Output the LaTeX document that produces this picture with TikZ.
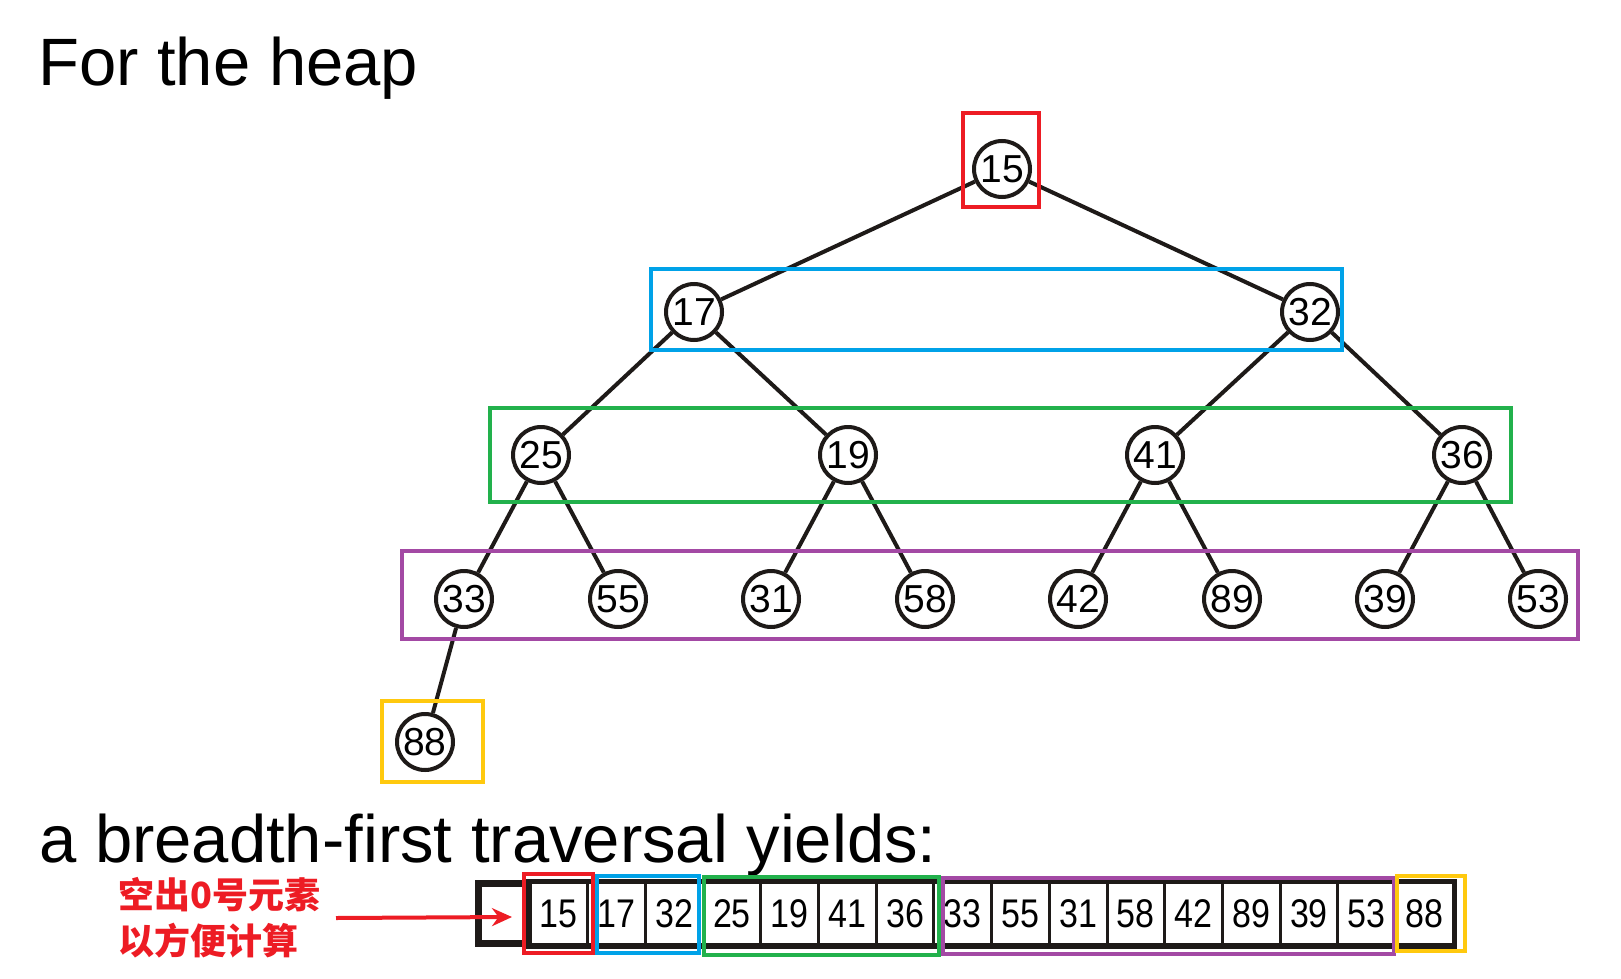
\documentclass[tikz,border=0pt]{standalone}
\usepackage{fontspec}
\setmainfont{Liberation Sans}
\newfontfamily\cjk{Noto Sans CJK SC}
\usetikzlibrary{arrows.meta}
\definecolor{cred}{RGB}{237,28,36}
\definecolor{cblue}{RGB}{0,162,232}
\definecolor{cgreen}{RGB}{34,177,76}
\definecolor{cpurple}{RGB}{163,73,164}
\definecolor{cyellow}{RGB}{255,201,14}
\definecolor{ink}{RGB}{30,26,24}
\begin{document}
\begin{tikzpicture}[x=1pt,y=-1pt,
  hn/.style={circle,draw=ink,line width=4pt,fill=white,minimum size=56pt,inner sep=0pt,
    font=\fontsize{39pt}{39pt}\selectfont},
  edge/.style={draw=ink,line width=4pt},
  cell/.style={draw=ink,line width=3pt,minimum width=57.7pt,minimum height=62pt,inner sep=0pt,
    font=\fontsize{40pt}{40pt}\selectfont},
  frame/.style={line width=3.5pt},
  title/.style={anchor=base west,inner sep=0pt,font=\fontsize{67pt}{67pt}\selectfont},
  note/.style={anchor=west,inner sep=0pt,align=left,text=cred,
    font=\cjk\bfseries\fontsize{36pt}{46pt}\selectfont},
  arr/.style={draw=cred,line width=4pt,-{Stealth[length=20pt,width=18pt]}}
]
\useasboundingbox (0,0) rectangle (1621,979);

\node[title] (t1) at (38,86) {For the heap};
\node[title] (t2) at (39,862) {a breadth-first traversal yields:};

% edges first (drawn under nodes)
\node[hn] (n1) at (1002,169) {15};
\node[hn] (n2) at (694,312) {17};
\node[hn] (n3) at (1310,312) {32};
\node[hn] (n4) at (541,455) {25};
\node[hn] (n5) at (848,455) {19};
\node[hn] (n6) at (1155,455) {41};
\node[hn] (n7) at (1462,455) {36};
\node[hn] (n8) at (464,599) {33};
\node[hn] (n9) at (618,599) {55};
\node[hn] (n10) at (771,599) {31};
\node[hn] (n11) at (925,599) {58};
\node[hn] (n12) at (1078,599) {42};
\node[hn] (n13) at (1232,599) {89};
\node[hn] (n14) at (1385,599) {39};
\node[hn] (n15) at (1538,599) {53};
\node[hn] (n16) at (425,742) {88};

\draw[edge] (n1) -- (n2);
\draw[edge] (n1) -- (n3);
\draw[edge] (n2) -- (n4);
\draw[edge] (n2) -- (n5);
\draw[edge] (n3) -- (n6);
\draw[edge] (n3) -- (n7);
\draw[edge] (n4) -- (n8);
\draw[edge] (n4) -- (n9);
\draw[edge] (n5) -- (n10);
\draw[edge] (n5) -- (n11);
\draw[edge] (n6) -- (n12);
\draw[edge] (n6) -- (n13);
\draw[edge] (n7) -- (n14);
\draw[edge] (n7) -- (n15);
\draw[edge] (n8) -- (n16);

% tree level frames
\draw[frame,cred] (963,113) rectangle (1039,207);
\draw[frame,cblue] (651,269) rectangle (1342,350);
\draw[frame,cgreen] (490,408) rectangle (1511,502);
\draw[frame,cpurple] (402,551) rectangle (1578,639);
\draw[frame,cyellow] (382,701) rectangle (483,782);

% array
\node[draw=ink,line width=7pt,minimum width=50pt,minimum height=60pt,inner sep=0pt] (a0) at (503.5,913.5) {};
\foreach \v [count=\k] in {15,17,32,25,19,41,36,33,55,31,58,42,89,39,53,88}{
  \node[cell] (a\k) at ({530+57.7*(\k-0.5)},913.5) {\scalebox{0.85}[1]{\v}};
}
\draw[draw=ink,line width=5pt] (a1.north west) rectangle (a16.south east);

% array frames
\draw[frame,cred] (524,874) rectangle (593,953);
\draw[frame,cblue] (597,876) rectangle (699,953);
\draw[frame,cgreen] (704,877) rectangle (939,955);
\draw[frame,cpurple] (943,878) rectangle (1394,954);
\draw[frame,cyellow] (1397,876) rectangle (1465,951);

% note and arrow
\node[note] (cn) at (118,918) {空出0号元素\\以方便计算};
\coordinate (as) at (336,918);
\coordinate (at) at (512,917);
\draw[arr] (as) -- (at);
\end{tikzpicture}
\end{document}
